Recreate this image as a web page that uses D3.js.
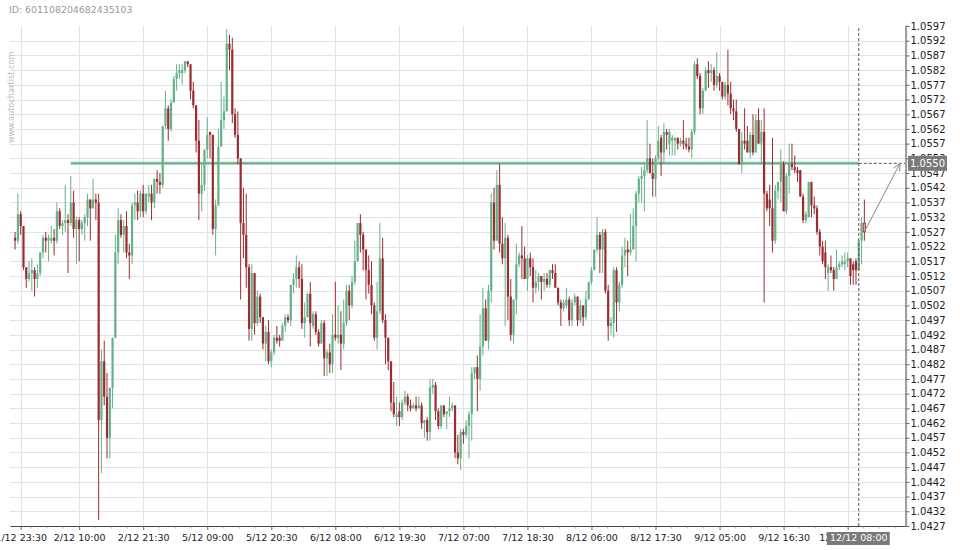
<!DOCTYPE html>
<html>
<head>
<meta charset="utf-8">
<script src="https://cdnjs.cloudflare.com/ajax/libs/d3/7.8.5/d3.min.js"></script>
<style>
  body { margin: 0; background: #fff; }
  svg { display: block; font-family: "DejaVu Sans", sans-serif; }
</style>
</head>
<body>
<script>
// 30 minute candles, index 0 = 1/12 22:30
const opens = [
  1.0525,1.0524,1.0533,1.0529,1.0515,1.0511,1.0513,1.0514,1.0511,1.0513,
  1.0520,1.0525,1.0524,1.0524,1.0525,1.0524,1.0534,1.0529,1.0530,1.0531,
  1.0530,1.0537,1.0528,1.0531,1.0528,1.0530,1.0532,1.0538,1.0535,1.0538,
  1.0537,1.0463,1.0483,1.0471,1.0457,1.0474,1.0491,1.0520,1.0531,1.0526,
  1.0529,1.0520,1.0519,1.0536,1.0537,1.0534,1.0540,1.0534,1.0539,1.0540,
  1.0537,1.0545,1.0544,1.0543,1.0563,1.0569,1.0562,1.0571,1.0579,1.0581,
  1.0581,1.0582,1.0585,1.0584,1.0575,1.0570,1.0558,1.0540,1.0543,1.0555,
  1.0561,1.0560,1.0528,1.0536,1.0556,1.0565,1.0568,1.0591,1.0589,1.0567,
  1.0560,1.0552,1.0530,1.0526,1.0515,1.0494,1.0513,1.0496,1.0505,1.0498,
  1.0489,1.0493,1.0483,1.0486,1.0491,1.0491,1.0490,1.0495,1.0498,1.0497,
  1.0509,1.0511,1.0515,1.0511,1.0496,1.0498,1.0506,1.0495,1.0499,1.0493,
  1.0489,1.0496,1.0484,1.0486,1.0482,1.0492,1.0491,1.0492,1.0489,1.0496,
  1.0507,1.0502,1.0510,1.0517,1.0530,1.0526,1.0521,1.0514,1.0509,1.0502,
  1.0491,1.0500,1.0518,1.0497,1.0491,1.0483,1.0469,1.0464,1.0466,1.0464,
  1.0469,1.0471,1.0468,1.0467,1.0468,1.0467,1.0468,1.0462,1.0463,1.0459,
  1.0474,1.0475,1.0466,1.0461,1.0468,1.0465,1.0466,1.0467,1.0468,1.0452,
  1.0450,1.0459,1.0458,1.0461,1.0465,1.0479,1.0481,1.0477,1.0488,1.0501,
  1.0490,1.0507,1.0537,1.0524,1.0543,1.0523,1.0518,1.0525,1.0505,1.0492,
  1.0504,1.0516,1.0519,1.0518,1.0511,1.0518,1.0515,1.0508,1.0510,1.0512,
  1.0510,1.0511,1.0509,1.0514,1.0513,1.0508,1.0503,1.0501,1.0502,1.0504,
  1.0497,1.0503,1.0505,1.0497,1.0502,1.0498,1.0504,1.0510,1.0514,1.0521,
  1.0526,1.0521,1.0527,1.0507,1.0495,1.0496,1.0514,1.0503,1.0509,1.0519,
  1.0521,1.0520,1.0521,1.0529,1.0540,1.0545,1.0546,1.0548,1.0552,1.0547,
  1.0545,1.0552,1.0559,1.0554,1.0561,1.0557,1.0558,1.0558,1.0559,1.0557,
  1.0558,1.0557,1.0556,1.0555,1.0561,1.0584,1.0580,1.0569,1.0575,1.0582,
  1.0581,1.0582,1.0577,1.0580,1.0578,1.0573,1.0577,1.0574,1.0569,1.0568,
  1.0562,1.0550,1.0558,1.0558,1.0554,1.0560,1.0554,1.0565,1.0557,1.0561,
  1.0540,1.0538,1.0535,1.0524,1.0541,1.0544,1.0550,1.0534,1.0546,1.0550,
  1.0549,1.0548,1.0548,1.0539,1.0531,1.0532,1.0544,1.0536,1.0535,1.0527,
  1.0522,1.0520,1.0513,1.0515,1.0514,1.0511,1.0515,1.0516,1.0516,1.0517,
  1.0518,1.0516,1.0517,1.0514,1.0524,1.0530
];
const highs = [
  1.0527,1.0540,1.0534,1.0529,1.0515,1.0517,1.0518,1.0515,1.0516,1.0520,
  1.0526,1.0527,1.0526,1.0529,1.0528,1.0537,1.0535,1.0531,1.0543,1.0533,
  1.0546,1.0541,1.0532,1.0532,1.0531,1.0533,1.0540,1.0538,1.0545,1.0540,
  1.0540,1.0487,1.0490,1.0479,1.0474,1.0491,1.0526,1.0535,1.0533,1.0531,
  1.0534,1.0523,1.0537,1.0540,1.0541,1.0541,1.0543,1.0540,1.0543,1.0543,
  1.0545,1.0548,1.0547,1.0563,1.0575,1.0570,1.0572,1.0580,1.0584,1.0584,
  1.0584,1.0585,1.0585,1.0584,1.0578,1.0570,1.0565,1.0550,1.0555,1.0566,
  1.0561,1.0560,1.0538,1.0562,1.0578,1.0573,1.0596,1.0594,1.0593,1.0569,
  1.0568,1.0552,1.0542,1.0540,1.0516,1.0516,1.0513,1.0507,1.0506,1.0498,
  1.0495,1.0497,1.0487,1.0492,1.0495,1.0492,1.0496,1.0499,1.0499,1.0509,
  1.0513,1.0519,1.0517,1.0516,1.0503,1.0506,1.0510,1.0500,1.0500,1.0494,
  1.0497,1.0497,1.0487,1.0489,1.0499,1.0510,1.0502,1.0500,1.0504,1.0509,
  1.0509,1.0512,1.0524,1.0530,1.0533,1.0527,1.0521,1.0519,1.0517,1.0503,
  1.0510,1.0530,1.0525,1.0499,1.0491,1.0483,1.0476,1.0471,1.0469,1.0470,
  1.0473,1.0472,1.0470,1.0469,1.0471,1.0471,1.0469,1.0463,1.0464,1.0477,
  1.0477,1.0476,1.0467,1.0468,1.0468,1.0466,1.0471,1.0469,1.0468,1.0458,
  1.0460,1.0460,1.0463,1.0466,1.0481,1.0481,1.0485,1.0499,1.0508,1.0504,
  1.0509,1.0540,1.0542,1.0548,1.0550,1.0532,1.0530,1.0526,1.0511,1.0504,
  1.0523,1.0520,1.0529,1.0522,1.0519,1.0520,1.0518,1.0514,1.0513,1.0512,
  1.0513,1.0513,1.0514,1.0516,1.0516,1.0508,1.0504,1.0504,1.0508,1.0505,
  1.0504,1.0506,1.0505,1.0504,1.0502,1.0507,1.0510,1.0515,1.0521,1.0532,
  1.0527,1.0528,1.0528,1.0509,1.0498,1.0515,1.0515,1.0510,1.0522,1.0525,
  1.0524,1.0533,1.0535,1.0541,1.0546,1.0549,1.0550,1.0565,1.0557,1.0552,
  1.0553,1.0563,1.0560,1.0564,1.0562,1.0562,1.0560,1.0559,1.0559,1.0559,
  1.0565,1.0559,1.0559,1.0562,1.0585,1.0586,1.0581,1.0576,1.0583,1.0585,
  1.0584,1.0583,1.0588,1.0581,1.0578,1.0578,1.0589,1.0578,1.0572,1.0572,
  1.0562,1.0561,1.0569,1.0563,1.0561,1.0567,1.0567,1.0569,1.0565,1.0569,
  1.0541,1.0543,1.0559,1.0543,1.0544,1.0555,1.0551,1.0547,1.0557,1.0557,
  1.0553,1.0549,1.0548,1.0540,1.0534,1.0544,1.0544,1.0539,1.0536,1.0528,
  1.0524,1.0524,1.0516,1.0519,1.0515,1.0521,1.0517,1.0519,1.0520,1.0520,
  1.0518,1.0517,1.0518,1.0524,1.0532,1.0538
];
const lows = [
  1.0521,1.0523,1.0526,1.0514,1.0508,1.0510,1.0507,1.0505,1.0508,1.0512,
  1.0518,1.0520,1.0517,1.0523,1.0519,1.0523,1.0528,1.0526,1.0527,1.0513,
  1.0529,1.0525,1.0516,1.0517,1.0526,1.0524,1.0529,1.0524,1.0535,1.0531,
  1.0429,1.0445,1.0468,1.0450,1.0450,1.0467,1.0491,1.0516,1.0525,1.0520,
  1.0518,1.0511,1.0516,1.0531,1.0531,1.0532,1.0532,1.0533,1.0537,1.0531,
  1.0535,1.0540,1.0540,1.0542,1.0562,1.0558,1.0561,1.0571,1.0575,1.0579,
  1.0577,1.0581,1.0583,1.0572,1.0569,1.0554,1.0531,1.0534,1.0541,1.0552,
  1.0552,1.0526,1.0519,1.0536,1.0556,1.0562,1.0568,1.0582,1.0564,1.0559,
  1.0550,1.0504,1.0518,1.0508,1.0490,1.0490,1.0492,1.0495,1.0496,1.0487,
  1.0483,1.0482,1.0481,1.0485,1.0489,1.0488,1.0490,1.0493,1.0496,1.0495,
  1.0506,1.0508,1.0508,1.0494,1.0491,1.0498,1.0488,1.0494,1.0492,1.0488,
  1.0489,1.0478,1.0478,1.0479,1.0479,1.0490,1.0489,1.0480,1.0487,1.0495,
  1.0497,1.0501,1.0509,1.0517,1.0520,1.0514,1.0504,1.0506,1.0499,1.0490,
  1.0487,1.0499,1.0496,1.0482,1.0480,1.0466,1.0464,1.0461,1.0461,1.0463,
  1.0468,1.0466,1.0466,1.0467,1.0466,1.0467,1.0460,1.0457,1.0456,1.0456,
  1.0472,1.0463,1.0460,1.0460,1.0464,1.0460,1.0464,1.0466,1.0450,1.0448,
  1.0446,1.0455,1.0457,1.0450,1.0456,1.0477,1.0466,1.0473,1.0485,1.0490,
  1.0487,1.0503,1.0521,1.0524,1.0520,1.0516,1.0495,1.0497,1.0490,1.0489,
  1.0499,1.0515,1.0511,1.0511,1.0507,1.0512,1.0503,1.0506,1.0507,1.0504,
  1.0507,1.0508,1.0508,1.0511,1.0508,1.0502,1.0495,1.0500,1.0501,1.0495,
  1.0495,1.0502,1.0495,1.0496,1.0495,1.0497,1.0504,1.0509,1.0514,1.0520,
  1.0513,1.0513,1.0506,1.0490,1.0492,1.0491,1.0493,1.0500,1.0508,1.0515,
  1.0512,1.0519,1.0521,1.0517,1.0537,1.0537,1.0534,1.0547,1.0547,1.0539,
  1.0539,1.0551,1.0546,1.0550,1.0555,1.0553,1.0553,1.0553,1.0555,1.0556,
  1.0555,1.0555,1.0554,1.0552,1.0560,1.0579,1.0567,1.0567,1.0575,1.0576,
  1.0578,1.0575,1.0576,1.0575,1.0572,1.0572,1.0570,1.0567,1.0565,1.0561,
  1.0550,1.0547,1.0555,1.0554,1.0552,1.0553,1.0554,1.0557,1.0550,1.0503,
  1.0534,1.0529,1.0520,1.0523,1.0538,1.0537,1.0534,1.0533,1.0540,1.0548,
  1.0547,1.0544,1.0539,1.0530,1.0530,1.0532,1.0532,1.0533,1.0526,1.0519,
  1.0516,1.0511,1.0507,1.0513,1.0507,1.0511,1.0514,1.0515,1.0514,1.0515,
  1.0509,1.0509,1.0509,1.0514,1.0516,1.0524
];
const closes = [
  1.0524,1.0533,1.0529,1.0515,1.0511,1.0513,1.0514,1.0511,1.0513,1.0520,
  1.0525,1.0524,1.0525,1.0525,1.0524,1.0534,1.0529,1.0530,1.0531,1.0530,
  1.0537,1.0528,1.0531,1.0528,1.0530,1.0532,1.0538,1.0535,1.0538,1.0537,
  1.0463,1.0483,1.0471,1.0457,1.0474,1.0491,1.0520,1.0531,1.0526,1.0529,
  1.0520,1.0519,1.0536,1.0537,1.0534,1.0540,1.0534,1.0540,1.0540,1.0537,
  1.0545,1.0544,1.0543,1.0563,1.0569,1.0562,1.0571,1.0579,1.0581,1.0582,
  1.0582,1.0585,1.0584,1.0575,1.0570,1.0558,1.0540,1.0543,1.0555,1.0560,
  1.0560,1.0528,1.0536,1.0556,1.0565,1.0568,1.0591,1.0589,1.0567,1.0560,
  1.0552,1.0530,1.0526,1.0515,1.0494,1.0513,1.0496,1.0505,1.0498,1.0489,
  1.0493,1.0483,1.0486,1.0491,1.0490,1.0490,1.0495,1.0498,1.0497,1.0509,
  1.0511,1.0515,1.0511,1.0496,1.0498,1.0506,1.0496,1.0499,1.0493,1.0489,
  1.0496,1.0484,1.0486,1.0482,1.0492,1.0491,1.0492,1.0489,1.0496,1.0507,
  1.0502,1.0510,1.0517,1.0530,1.0526,1.0521,1.0514,1.0509,1.0502,1.0491,
  1.0500,1.0518,1.0497,1.0491,1.0483,1.0469,1.0465,1.0465,1.0464,1.0469,
  1.0471,1.0468,1.0467,1.0468,1.0467,1.0468,1.0462,1.0463,1.0459,1.0474,
  1.0475,1.0466,1.0461,1.0468,1.0465,1.0466,1.0467,1.0468,1.0452,1.0450,
  1.0459,1.0458,1.0461,1.0465,1.0479,1.0481,1.0477,1.0488,1.0501,1.0490,
  1.0507,1.0537,1.0524,1.0543,1.0523,1.0518,1.0525,1.0505,1.0492,1.0504,
  1.0516,1.0519,1.0518,1.0511,1.0518,1.0515,1.0508,1.0510,1.0512,1.0510,
  1.0511,1.0509,1.0514,1.0513,1.0508,1.0503,1.0501,1.0503,1.0504,1.0497,
  1.0503,1.0505,1.0497,1.0502,1.0498,1.0504,1.0510,1.0514,1.0521,1.0526,
  1.0521,1.0527,1.0507,1.0495,1.0496,1.0514,1.0503,1.0509,1.0519,1.0521,
  1.0520,1.0521,1.0529,1.0540,1.0545,1.0546,1.0548,1.0552,1.0547,1.0545,
  1.0552,1.0558,1.0554,1.0561,1.0560,1.0561,1.0559,1.0559,1.0557,1.0558,
  1.0557,1.0556,1.0555,1.0561,1.0584,1.0580,1.0569,1.0575,1.0582,1.0581,
  1.0582,1.0577,1.0580,1.0578,1.0573,1.0577,1.0574,1.0569,1.0568,1.0562,
  1.0550,1.0558,1.0557,1.0554,1.0560,1.0554,1.0565,1.0557,1.0561,1.0540,
  1.0535,1.0535,1.0524,1.0541,1.0544,1.0550,1.0534,1.0546,1.0550,1.0549,
  1.0548,1.0547,1.0539,1.0531,1.0533,1.0544,1.0536,1.0535,1.0527,1.0522,
  1.0517,1.0515,1.0515,1.0514,1.0511,1.0515,1.0516,1.0517,1.0517,1.0518,
  1.0512,1.0514,1.0514,1.0524,1.0530,1.0527
];

// x axis labels (candle index -> time)
const tickIdx = [2, 23, 46, 69, 92, 115, 138, 161, 184, 207, 230, 253, 276, 299];
const tickLabels = ["1/12 23:30", "2/12 10:00", "2/12 21:30", "5/12 09:00", "5/12 20:30",
  "6/12 08:00", "6/12 19:30", "7/12 07:00", "7/12 18:30", "8/12 06:00", "8/12 17:30",
  "9/12 05:00", "9/12 16:30", "12/12 06:00"];

const chartId = "601108204682435103";
const levelPrice = 1.05503;
const levelFrom = 20;       // candle index where the level line starts
const currentIdx = 303;     // candle of 12/12 08:00
const currentLabel = "12/12 08:00";
const yMin = 1.0427, yMax = 1.0597;

const W = 960, H = 550;
const GREEN = "#64b28a", RED = "#9b2d32";

const svg = d3.select("body").append("svg").attr("width", W).attr("height", H);

const x = d3.scaleLinear().domain([-1.84, 319.6]).range([10, 905]);
const y = d3.scaleLinear().domain([yMin, yMax]).range([526, 26]);

const yTicks = d3.range(35).map(k => +(yMin + k * 0.0005).toFixed(4));
const yMinor = d3.range(171).map(k => +(yMin + k * 0.0001).toFixed(4));

// grid
const grid = svg.append("g");
grid.selectAll(".hg").data(yTicks.slice(1, -1)).enter().append("line")
  .attr("x1", 10).attr("x2", 905)
  .attr("y1", d => Math.round(y(d)) + 0.5).attr("y2", d => Math.round(y(d)) + 0.5)
  .attr("stroke", "#e2e2e2");
grid.selectAll(".vg").data(tickIdx).enter().append("line")
  .attr("x1", d => Math.round(x(d)) + 0.5).attr("x2", d => Math.round(x(d)) + 0.5)
  .attr("y1", 26).attr("y2", 526)
  .attr("stroke", "#e2e2e2");

// id + watermark
svg.append("text").attr("x", 9).attr("y", 13).attr("font-size", "9.4px")
  .attr("fill", "#999").text("ID: " + chartId);
svg.append("text").attr("transform", "translate(14,143) rotate(-90)")
  .attr("font-size", "8.2px").attr("fill", "#bbb").text("www.autochartist.com");

// level line
const lvl = svg.append("g");
lvl.append("line").attr("x1", x(levelFrom)).attr("x2", x(currentIdx))
  .attr("y1", y(levelPrice)).attr("y2", y(levelPrice))
  .attr("stroke", "#8cc6a8").attr("stroke-width", 3);
lvl.append("line").attr("x1", x(levelFrom)).attr("x2", x(currentIdx))
  .attr("y1", y(levelPrice)).attr("y2", y(levelPrice))
  .attr("stroke", "#5faa86").attr("stroke-width", 1);

// candles
const candles = d3.range(opens.length).map(i => ({
  i: i, o: opens[i], h: highs[i], l: lows[i], c: closes[i]
}));
const last = candles.length - 1;
const cg = svg.append("g");
const cs = cg.selectAll("g").data(candles).enter().append("g");
cs.append("line")
  .attr("x1", d => x(d.i)).attr("x2", d => x(d.i))
  .attr("y1", d => y(d.h)).attr("y2", d => y(d.l))
  .attr("stroke", d => d.c > d.o ? GREEN : RED).attr("stroke-width", 1);
cs.append("rect")
  .attr("x", d => x(d.i) - 1.1).attr("width", 2.2)
  .attr("y", d => y(Math.max(d.o, d.c)))
  .attr("height", d => Math.max(1, Math.abs(y(d.o) - y(d.c))))
  .attr("fill", d => d.i === last ? "#e4a3a3" : (d.c > d.o ? GREEN : RED))
  .attr("stroke", d => d.i === last ? RED : "none")
  .attr("stroke-width", d => d.i === last ? 0.8 : 0);

// current time / price markers
svg.append("line").attr("x1", x(currentIdx)).attr("x2", x(currentIdx))
  .attr("y1", 28).attr("y2", 526)
  .attr("stroke", "#555").attr("stroke-dasharray", "3,2");
svg.append("line").attr("x1", x(currentIdx)).attr("x2", 905)
  .attr("y1", y(levelPrice)).attr("y2", y(levelPrice))
  .attr("stroke", "#555").attr("stroke-dasharray", "3,2");

// arrow from last close to the level
const ax0 = x(last), ay0 = y(closes[last]), ax1 = 900, ay1 = y(levelPrice);
const ang = Math.atan2(ay1 - ay0, ax1 - ax0);
const arrow = svg.append("g").attr("stroke", "#888").attr("fill", "none");
arrow.append("line").attr("x1", ax0).attr("y1", ay0).attr("x2", ax1).attr("y2", ay1);
[0.45, -0.45].forEach(da => {
  arrow.append("line").attr("x1", ax1).attr("y1", ay1)
    .attr("x2", ax1 - 8 * Math.cos(ang + da)).attr("y2", ay1 - 8 * Math.sin(ang + da));
});

// y axis (right)
const yAxis = svg.append("g").attr("transform", "translate(905.5,0)")
  .call(d3.axisRight(y).tickValues(yTicks).tickFormat(d3.format(".4f"))
    .tickSizeInner(4).tickSizeOuter(0).tickPadding(1));
yAxis.select(".domain").attr("stroke", "#444");
yAxis.selectAll(".tick line").attr("stroke", "#666");
yAxis.selectAll("text").attr("font-family", "DejaVu Sans").attr("font-size", "10px").attr("fill", "#222");
svg.append("g").selectAll("line").data(yMinor).enter().append("line")
  .attr("x1", 905.5).attr("x2", 907.5)
  .attr("y1", d => y(d)).attr("y2", d => y(d))
  .attr("stroke", "#999").attr("stroke-width", 0.6);

// x axis (bottom)
const labelOf = new Map(tickIdx.map((t, k) => [t, tickLabels[k]]));
const xAxis = svg.append("g").attr("transform", "translate(0,526)")
  .call(d3.axisBottom(x).tickValues(tickIdx).tickFormat(d => labelOf.get(d))
    .tickSizeInner(4).tickSizeOuter(0).tickPadding(4));
xAxis.select(".domain").attr("stroke", "#444");
xAxis.selectAll(".tick line").attr("stroke", "#666");
xAxis.selectAll("text").attr("font-family", "DejaVu Sans").attr("font-size", "9.5px").attr("fill", "#222");
const xMinor = [];
tickIdx.forEach((t, k) => {
  const step = (k === 0 ? 21 : 23) / 4;
  [1, 2, 3].forEach(m => xMinor.push(t - step * m));
});
[1, 2, 3].forEach(m => xMinor.push(299 + 5.75 * m));
svg.append("g").selectAll("line").data(xMinor.filter(v => x(v) > 10 && x(v) < 905)).enter().append("line")
  .attr("x1", d => x(d)).attr("x2", d => x(d))
  .attr("y1", 526).attr("y2", 528.5)
  .attr("stroke", "#888").attr("stroke-width", 0.7);

// price box
const pb = svg.append("g").attr("transform", `translate(908,${y(levelPrice)})`);
pb.append("rect").attr("x", 0).attr("y", -7.5).attr("width", 39).attr("height", 15).attr("fill", "#7a7a7a");
pb.append("text").attr("x", 2).attr("y", 0).attr("dy", "0.35em").attr("font-size", "10px")
  .attr("fill", "#fff").text(d3.format(".4f")(levelPrice));

// time box
const tb = svg.append("g").attr("transform", `translate(${x(currentIdx)},538)`);
tb.append("rect").attr("x", -32).attr("y", -6).attr("width", 63).attr("height", 13).attr("fill", "#7a7a7a");
tb.append("text").attr("x", 0).attr("y", 0).attr("dy", "0.35em").attr("text-anchor", "middle")
  .attr("font-size", "9.5px").attr("fill", "#fff").text(currentLabel);
</script>
</body>
</html>
